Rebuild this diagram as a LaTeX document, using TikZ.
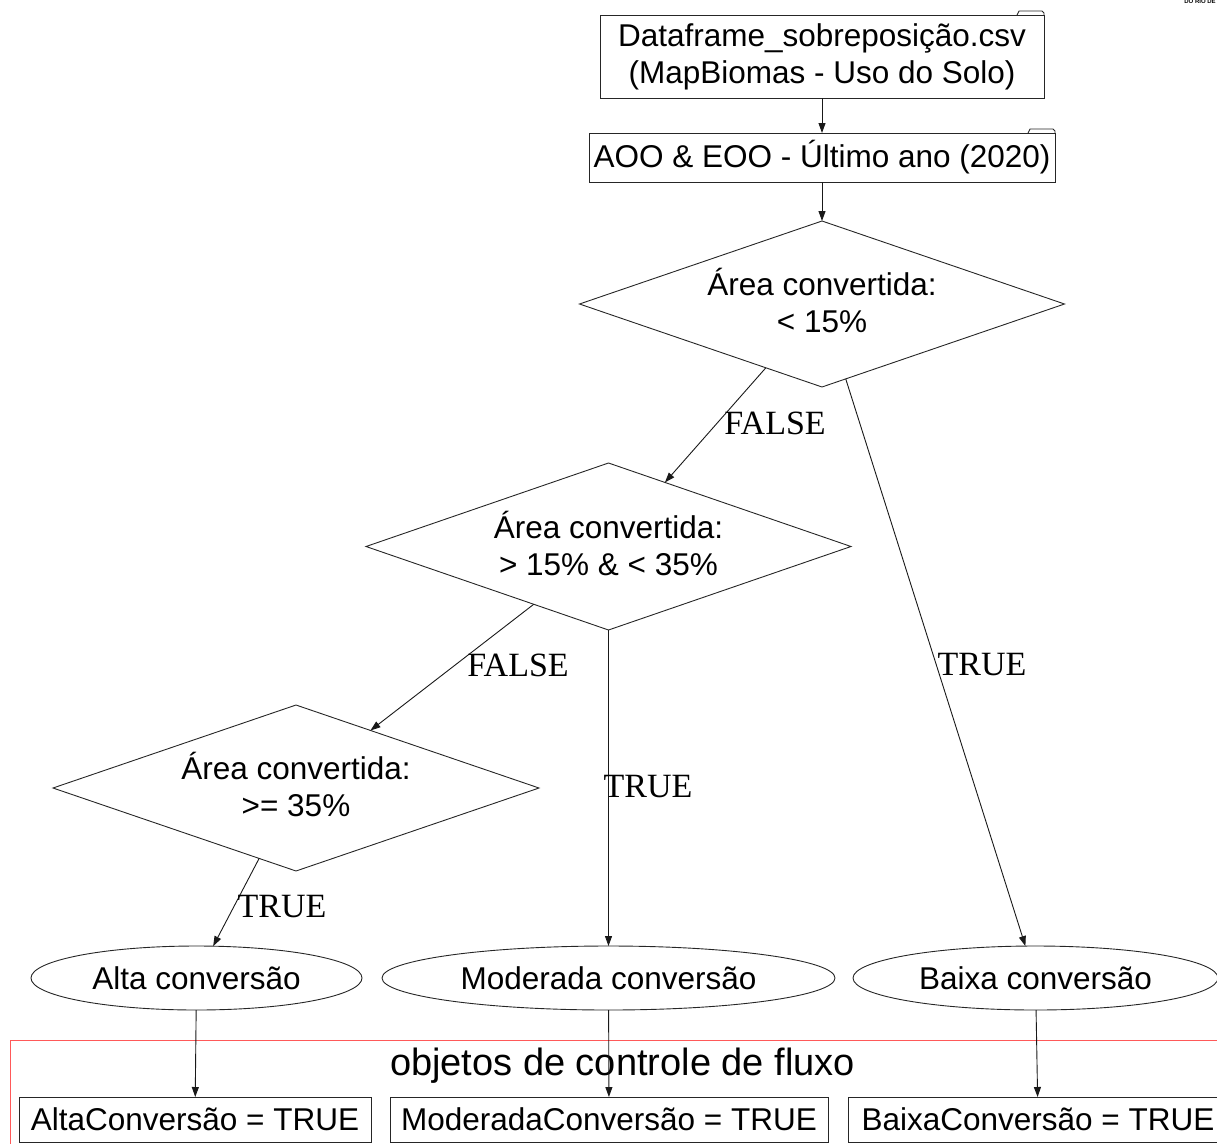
\documentclass[tikz,border=0pt]{standalone}
\usepackage{fontspec}
\setmainfont{Liberation Sans}
\newfontfamily\labelserif{Liberation Serif}
\usetikzlibrary{shapes.geometric,arrows.meta,calc}

\begin{document}
\begin{tikzpicture}[x=1pt,y=-1pt,
  every node/.style={inner sep=0pt, outer sep=0pt},
  txt/.style={font=\fontsize{31.5}{37}\selectfont, align=center},
  shapeline/.style={draw=black!85, line width=0.9pt},
  folderbox/.style={txt, shapeline, rectangle},
  decision/.style={txt, shapeline, diamond, aspect=2.92, text depth=7pt},
  outcome/.style={txt, shapeline, ellipse},
  flagbox/.style={txt, shapeline, rectangle},
  branch/.style={font=\labelserif\fontsize{34}{40}\selectfont},
  flow/.style={draw=black!90, line width=0.9pt, -{Triangle[length=10pt,width=7pt]}},
  cluster/.style={draw=red!65, line width=0.9pt},
]

\useasboundingbox (0,0) rectangle (1217,1143);
\clip (0,0) rectangle (1217,1143);

% input data (folder shapes)
\node[folderbox, minimum width=444pt, minimum height=83pt] (src) at (822,56.5)
  {Dataframe\_sobreposição.csv\\(MapBiomas - Uso do Solo)};
\draw[shapeline] ($(src.north east)+(-27,0)$) -- ++(2,-4) -- ++(23,0) -- ++(2,2) -- (src.north east);

\node[folderbox, minimum width=466pt, minimum height=49pt] (aoo) at (822,157.5)
  {AOO \& EOO - Último ano (2020)};
\draw[shapeline] ($(aoo.north east)+(-27,0)$) -- ++(2,-4) -- ++(23,0) -- ++(2,2) -- (aoo.north east);

% decisions
\node[decision, minimum width=485pt, minimum height=166pt] (d1) at (822,304)
  {Área convertida:\\< 15\%};
\node[decision, minimum width=485pt, minimum height=167pt] (d2) at (608.5,546.5)
  {Área convertida:\\> 15\% \& < 35\%};
\node[decision, minimum width=486pt, minimum height=166pt] (d3) at (296,788)
  {Área convertida:\\>= 35\%};

% outcomes
\node[outcome, minimum width=331pt, minimum height=64pt] (alta) at (196.5,978) {Alta conversão};
\node[outcome, minimum width=453pt, minimum height=64pt] (mod) at (608.5,978) {Moderada conversão};
\node[outcome, minimum width=365pt, minimum height=64pt] (baixa) at (1035.5,978) {Baixa conversão};

% flow-control cluster
\draw[cluster] (10,1040) rectangle (1240,1170);
\node[font=\fontsize{38}{44}\selectfont, anchor=base] (clab) at (622.5,1075) {objetos de controle de fluxo};

\node[flagbox, minimum width=352pt, minimum height=45pt] (fa) at (195,1119.5) {AltaConversão = TRUE};
\node[flagbox, minimum width=438pt, minimum height=45pt] (fm) at (609,1119.5) {ModeradaConversão = TRUE};
\node[flagbox, minimum width=380pt, minimum height=45pt] (fb) at (1038,1119.5) {BaixaConversão = TRUE};

% connectors
\draw[flow] (src) -- (aoo);
\draw[flow] (aoo) -- (d1);
\draw[flow] (d1) -- (d2);
\draw[flow] (d1) -- (baixa);
\draw[flow] (d2) -- (d3);
\draw[flow] (d2) -- (mod);
\draw[flow] (d3) -- (alta);
\draw[flow] (alta) -- (fa);
\draw[flow] (mod) -- (fm);
\draw[flow] (baixa) -- (fb);

% branch labels
\node[branch] (l1) at (775,423) {FALSE};
\node[branch] (l2) at (982,665) {TRUE};
\node[branch] (l3) at (518,665) {FALSE};
\node[branch] (l4) at (648,787) {TRUE};
\node[branch] (l5) at (282,907) {TRUE};

% corner caption
\node[font=\fontsize{6}{7}\selectfont\bfseries, anchor=base] (corner) at (1200,4) {DO RIO DE};
\end{tikzpicture}
\end{document}
